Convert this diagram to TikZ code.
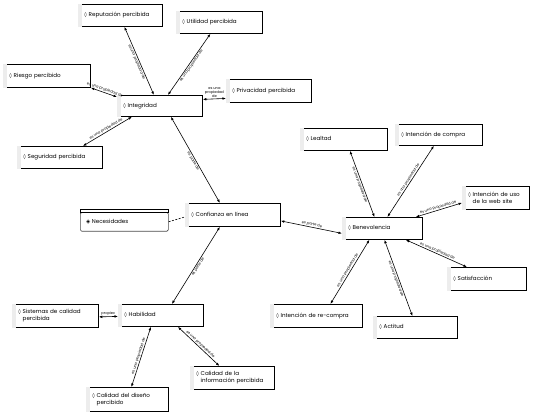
\documentclass[tikz,border=0pt]{standalone}
\usepackage{fontspec}
\setmainfont{Poppins}
\newfontfamily\djv{DejaVu Sans}
\usetikzlibrary{arrows.meta,calc}
\newcommand\lz{{\djv\fontsize{5}{6}\selectfont ◊}}
\begin{document}
\begin{tikzpicture}[x=1pt,y=-1pt,
  cbox/.style={draw=black, line width=0.8pt, fill=white, anchor=north west, align=left,
     inner xsep=6pt, inner ysep=0pt, font=\fontsize{5.6}{7}\selectfont},
  rel/.style={line width=0.6pt, {Latex[length=3.5pt,width=2.6pt]}-{Latex[length=3.5pt,width=2.6pt]}},
  lab/.style={midway, sloped, font=\fontsize{3.6}{4}\selectfont, inner sep=0.5pt}]
\useasboundingbox (0,0) rectangle (547,417);
% boxes
\node[cbox, text width=72pt, minimum height=22pt] (rep) at (78,4) {\lz{} Reputación percibida};
\node[cbox, text width=74pt, minimum height=22pt] (util) at (176,11) {\lz{} Utilidad percibida};
\node[cbox, text width=75pt, minimum height=23pt] (ries) at (3,64) {\lz{} Riesgo percibido};
\node[cbox, text width=73pt, minimum height=21pt] (integ) at (117,95) {\lz{} Integridad};
\node[cbox, text width=73pt, minimum height=23pt] (priv) at (226,79) {\lz{} Privacidad percibida};
\node[cbox, text width=73pt, minimum height=22pt] (seg) at (17,146) {\lz{} Seguridad percibida};
\node[cbox, text width=83pt, minimum height=23pt] (conf) at (185,203) {\lz{} Confianza en línea};
\node[cbox, text width=68pt, minimum height=22pt] (benev) at (342,217) {\lz{} Benevolencia};
\node[cbox, text width=75pt, minimum height=22pt] (leal) at (300,128) {\lz{} Lealtad};
\node[cbox, text width=75pt, minimum height=21pt] (compra) at (395,124) {\lz{} Intención de compra};
\node[cbox, text width=55pt, minimum height=23pt] (uso) at (462,186) {\lz{} Intención de uso\\\hphantom{\lz{} }de la web site};
\node[cbox, text width=67pt, minimum height=23pt] (satis) at (447,267) {\lz{} Satisfacción};
\node[cbox, text width=80pt, minimum height=23pt] (recom) at (270,304) {\lz{} Intención de re-compra};
\node[cbox, text width=72pt, minimum height=22pt] (acti) at (373,316) {\lz{} Actitud};
\node[cbox, text width=74pt, minimum height=23pt] (sist) at (12,304) {\lz{} Sistemas de calidad\\\hphantom{\lz{} }percibida};
\node[cbox, text width=73pt, minimum height=22pt] (habil) at (118,304) {\lz{} Habilidad};
\node[cbox, text width=72pt, minimum height=23pt] (info) at (190,366) {\lz{} Calidad de la\\\hphantom{\lz{} }información percibida};
\node[cbox, text width=70pt, minimum height=24pt] (dise) at (86,387) {\lz{} Calidad del diseño\\\hphantom{\lz{} }percibido};
% gray strips
\foreach \n in {rep,util,ries,integ,priv,seg,conf,benev,leal,compra,uso,satis,recom,acti,sist,habil,info,dise}{
  \fill[black!7] ([xshift=-0.5pt,yshift=0.4pt]\n.north west) rectangle ([xshift=4pt,yshift=-0.4pt]\n.south west);
}
% Necesidades
\node[draw=black!70, line width=0.6pt, rounded corners=1.5pt, anchor=north west, minimum width=88pt, minimum height=19pt,
  inner sep=0pt, fill=white] (nec) at (80,212) {};
\node[font=\fontsize{5.6}{7}\selectfont, anchor=west, inner sep=0pt] (nect) at ([xshift=6pt]nec.west) {{\djv\fontsize{5.5}{6}\selectfont ◈}\ Necesidades};
\draw[line width=0.7pt, fill=white] (nec.north west) ++(0,-3) coordinate (ntl) rectangle (nec.north east);
% connectors
\draw[rel] ([xshift=4pt]rep.south) -- node[lab, below] {es una propiedad de} ([xshift=-6pt]integ.north);
\draw[rel] ([xshift=-9pt]util.south) -- node[lab, below] {es una propiedad de} ([xshift=8pt]integ.north);
\draw[rel] (ries.south east) -- node[lab, above] {es una propiedad de} ([yshift=-2pt]integ.north west);
\draw[rel] ([yshift=-7.5pt]priv.west) -- node[midway, above=1pt, align=center, font=\fontsize{3.6}{4}\selectfont, inner sep=0pt] {es una\\propiedad\\de} ([yshift=6.5pt]integ.east);
\draw[rel] ([xshift=23pt]seg.north) -- node[lab, above] {es una propiedad de} ([xshift=-28pt]integ.south);
\draw[rel] ([xshift=11pt]integ.south) -- node[lab, below] {es parte de} ([xshift=-13pt]conf.north);
\draw[line width=0.6pt, dash pattern=on 2pt off 1.5pt] (nec.east) -- ([yshift=-2pt]conf.west);
\draw[rel] ([yshift=-6pt]conf.east) -- node[lab, above] {es parte de} ([yshift=-5pt]benev.west);
\draw[rel] ([xshift=11pt]habil.north) -- node[lab, below] {es parte de} ([xshift=-13pt]conf.south);
\draw[rel] ([xshift=6pt]leal.south) -- node[lab, below] {es una propiedad de} ([xshift=-8pt]benev.north);
\draw[rel] ([xshift=-5pt]compra.south) -- node[lab, above] {es una propiedad de} ([xshift=5pt]benev.north);
\draw[rel] ([yshift=-5pt]uso.west) -- node[lab, above] {es una propiedad de} ([xshift=-7pt]benev.north east);
\draw[rel] ([xshift=-20pt]satis.north) -- node[lab, above] {es una propiedad de} ([xshift=-17pt]benev.south east);
\draw[rel] ([xshift=-3pt]acti.north) -- node[lab, below] {es una propiedad de} ([xshift=2pt]benev.south);
\draw[rel] ([xshift=14pt]recom.north) -- node[lab, above] {es una propiedad de} ([xshift=-13pt]benev.south);
\draw[rel] ([yshift=-1pt]sist.east) -- node[midway, above=0.5pt, font=\fontsize{3.6}{4}\selectfont, inner sep=0pt] {propiec} ([yshift=-1pt]habil.west);
\draw[rel] ([xshift=4pt]dise.north) -- node[lab, above] {es una propiedad de} ([xshift=-10pt]habil.south);
\draw[rel] ([xshift=-13pt]info.north) -- node[lab, above] {es una propiedad de} ([xshift=17pt]habil.south);
\end{tikzpicture}
\end{document}
